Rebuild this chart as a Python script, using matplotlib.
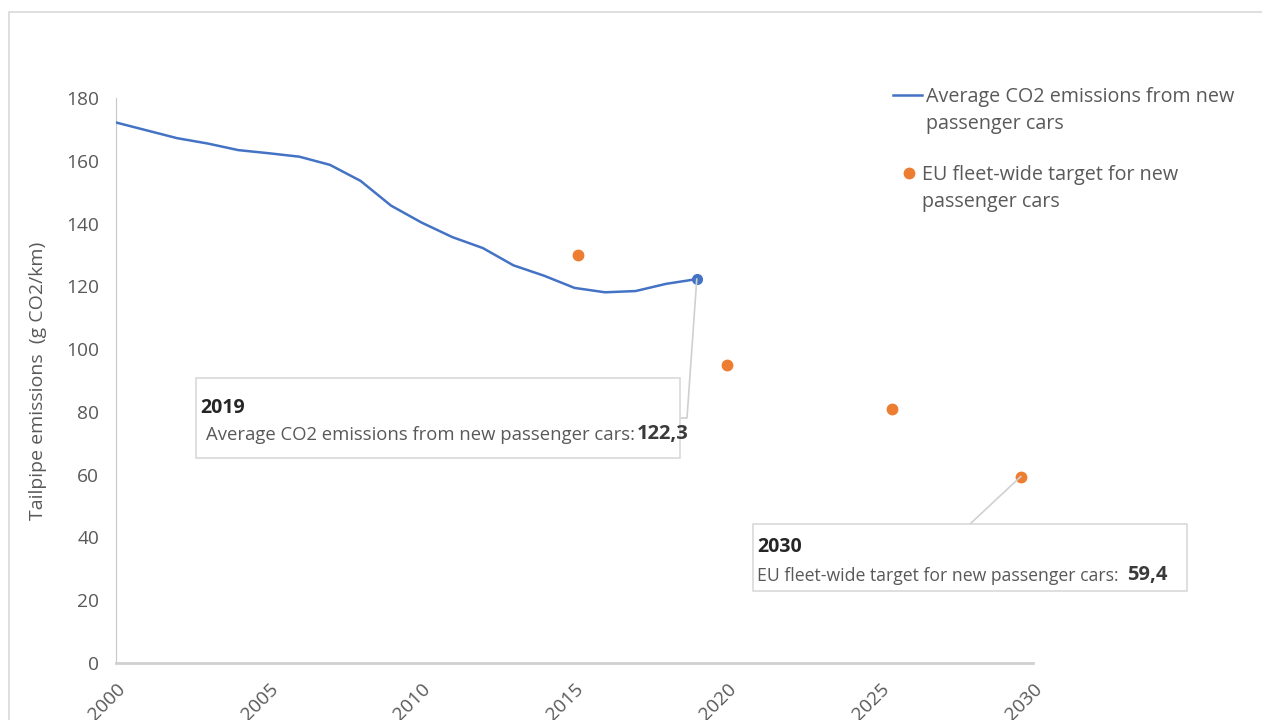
import numpy as np
import matplotlib.pyplot as plt
from matplotlib.lines import Line2D
from matplotlib.patches import Rectangle

plt.rcParams['font.family'] = ['Open Sans', 'DejaVu Sans']

# average CO2 emissions from new passenger cars (g CO2/km)
years = list(range(2000, 2020))
avg_co2 = [172.2, 169.7, 167.2, 165.5, 163.4, 162.4, 161.3, 158.7, 153.6, 145.7,
           140.3, 135.7, 132.2, 126.7, 123.4, 119.5, 118.1, 118.5, 120.8, 122.3]

# EU fleet-wide targets (x positions)
target_x = [2015.1, 2020.0, 2025.4, 2029.6]
target_val = [130, 95, 81, 59.4]

line_label = 'Average CO2 emissions from new\npassenger cars'
dot_label = 'EU fleet-wide target for new\npassenger cars'
note_2019 = ('2019', 'Average CO2 emissions from new passenger cars:', '122,3')
note_2030 = ('2030', 'EU fleet-wide target for new passenger cars:', '59,4')

BLUE = '#4472C4'
ORANGE = '#ED7D31'
GREY_TXT = '#595959'
W, H = 1262, 720


def px(x, y):
    # pixel (from top-left) -> figure fraction
    return x / W, 1 - y / H


fig = plt.figure(figsize=(W / 100, H / 100), dpi=100)
ax = fig.add_axes([116 / W, 57 / H, (1033 - 116) / W, (663 - 98) / H])

ax.plot(years, avg_co2, color=BLUE, lw=1.8, zorder=3)
ax.plot(years[-1], avg_co2[-1], 'o', color=BLUE, ms=7, zorder=4)
ax.plot(target_x, target_val, 'o', color=ORANGE, ms=7.5, ls='none', zorder=4)

ax.set_xlim(2000, 2030)
ax.set_ylim(0, 180)
ax.set_yticks(np.arange(0, 181, 20))
ax.set_xticks(np.arange(2000, 2031, 5))
ax.tick_params(length=0, colors=GREY_TXT, labelsize=13.8)
ax.tick_params(axis='y', pad=12)
ax.tick_params(axis='x', pad=12)
for lab in ax.get_xticklabels():
    lab.set_rotation(45)
    lab.set_ha('right')
    lab.set_va('top')
    lab.set_rotation_mode('anchor')
for s in ['top', 'right']:
    ax.spines[s].set_visible(False)
ax.spines['left'].set_color('#c8c8c8')
ax.spines['bottom'].set_color('#d0d0d0')
ax.spines['bottom'].set_linewidth(2)
ax.set_ylabel('Tailpipe emissions  (g CO2/km)', color=GREY_TXT, fontsize=14, labelpad=14)
ax.set_facecolor('none')

# outer chart border
fig.patches.append(Rectangle(px(9, 760), 1300 / W, 748 / H, transform=fig.transFigure,
                             fill=False, ec='#d9d9d9', lw=1.2))

# legend drawn by hand (handles aligned with first text line)
fig.add_artist(Line2D([893 / W, 922 / W], [px(0, 95)[1]] * 2, color=BLUE, lw=1.8))
fig.text(*px(926, 87), line_label, color=GREY_TXT, fontsize=14.2, va='top', linespacing=1.45)
fig.add_artist(Line2D([909 / W], [px(0, 173)[1]], marker='o', color=ORANGE, ms=7.5, ls='none'))
fig.text(*px(922, 165), dot_label, color=GREY_TXT, fontsize=14.2, va='top', linespacing=1.45)


def data_px(x, y):
    d = ax.transData.transform((x, y))
    return fig.transFigure.inverted().transform(d)


def note_box(x0, y0, x1, y1, lines, big_x, title_y, body_y, body_x, body_fs):
    fig.patches.append(Rectangle(px(x0, y1), (x1 - x0) / W, (y1 - y0) / H,
                                 transform=fig.transFigure, fc='white', ec='#d9d9d9', lw=1.2, zorder=5))
    fig.text(*px(x0 + 4, title_y), lines[0], fontsize=14, weight='bold', color='#262626',
             va='center', zorder=6)
    fig.text(*px(body_x, body_y), lines[1], fontsize=body_fs, color=GREY_TXT, va='center', zorder=6)
    fig.text(*px(big_x, body_y - 1), lines[2], fontsize=14.5, weight='bold', color='#3a3a3a',
             va='center', zorder=6)


# 2019 callout
dx, dy = data_px(years[-1], avg_co2[-1])
fig.add_artist(Line2D([dx, 687 / W, 680 / W], [dy, px(0, 418)[1], px(0, 418)[1]],
                      color='#d0d0d0', lw=1.2, zorder=4))
note_box(196, 378, 680, 458, note_2019, 637, 408, 435, 206, 13.3)

# 2030 callout
dx, dy = data_px(target_x[-1], target_val[-1])
fig.add_artist(Line2D([dx, 970 / W], [dy, px(0, 524)[1]], color='#d0d0d0', lw=1.2, zorder=4))
note_box(753, 524, 1187, 591, note_2030, 1127, 547, 576, 757, 12.7)

fig.savefig('out.png', dpi=100)
